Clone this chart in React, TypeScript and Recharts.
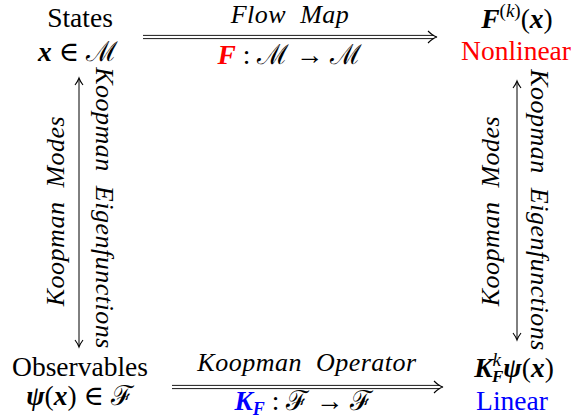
import React from 'react';
import { ScatterChart, Scatter, XAxis, YAxis, ReferenceLine } from 'recharts';

const W = 573;
const H = 419;

// diagram labels and where they sit (diagram units, y grows downward)
const nodeIds = [
  'states', 'stateVar', 'flowMap', 'flowEq', 'iterate', 'nonlinear',
  'modesL', 'eigenL', 'modesR', 'eigenR',
  'observables', 'obsVar', 'operator', 'operatorEq', 'koopIter', 'linear',
];
const nodeX = [80, 78, 290, 290, 517, 516, 64, 96, 499, 531, 80, 80, 307, 304, 514, 512];
const nodeY = [27, 61, 23, 64, 28, 60, 211, 208, 211, 210, 376, 405, 371, 410, 377, 410];

// arrows between the four corners
const arrowIds = ['flow', 'koopman', 'left', 'right'];
const arrowX1 = [143, 172, 79, 517];
const arrowY1 = [37, 387, 78, 81];
const arrowX2 = [437, 443, 79, 517];
const arrowY2 = [37, 387, 347, 340];

const nodes = nodeIds.map((id, i) => ({ id, x: nodeX[i], y: nodeY[i] }));

const FONT = '"Liberation Serif", "DejaVu Serif", serif';
const RED = '#ff0000';
const BLUE = '#0000ff';
const BASE = 27.5;
const ITAL = 26;

const Italic = ({ children }: { children: string }) => (
  <tspan fontStyle="italic" fontSize={ITAL} letterSpacing={0.5} wordSpacing={7}>
    {children}
  </tspan>
);

const labelContent = (id: string) => {
  switch (id) {
    case 'states':
      return 'States';
    case 'stateVar':
      return (
        <>
          <tspan fontWeight="bold" fontStyle="italic">x</tspan>
          <tspan> ∈ ℳ</tspan>
        </>
      );
    case 'flowMap':
      return <Italic>Flow Map</Italic>;
    case 'flowEq':
      return (
        <>
          <tspan fill={RED} fontWeight="bold" fontStyle="italic">F</tspan>
          <tspan> : ℳ → ℳ</tspan>
        </>
      );
    case 'iterate':
      return (
        <>
          <tspan fontWeight="bold" fontStyle="italic">F</tspan>
          <tspan dy={-11} fontSize={19}>(</tspan>
          <tspan fontSize={19} fontStyle="italic">k</tspan>
          <tspan fontSize={19}>)</tspan>
          <tspan dy={11}>(</tspan>
          <tspan fontWeight="bold" fontStyle="italic">x</tspan>
          <tspan>)</tspan>
        </>
      );
    case 'nonlinear':
      return <tspan fill={RED}>Nonlinear</tspan>;
    case 'modesL':
    case 'modesR':
      return <Italic>Koopman Modes</Italic>;
    case 'eigenL':
    case 'eigenR':
      return <Italic>Koopman Eigenfunctions</Italic>;
    case 'observables':
      return 'Observables';
    case 'obsVar':
      return (
        <>
          <tspan fontWeight="bold" fontStyle="italic">ψ</tspan>
          <tspan>(</tspan>
          <tspan fontWeight="bold" fontStyle="italic">x</tspan>
          <tspan>) ∈ ℱ</tspan>
        </>
      );
    case 'operator':
      return <Italic>Koopman Operator</Italic>;
    case 'operatorEq':
      return (
        <>
          <tspan fill={BLUE} fontWeight="bold" fontStyle="italic">K</tspan>
          <tspan fill={BLUE} fontWeight="bold" fontStyle="italic" fontSize={18} dy={5}>F</tspan>
          <tspan dy={-5}> : ℱ → ℱ</tspan>
        </>
      );
    case 'koopIter':
      return (
        <>
          <tspan fontWeight="bold" fontStyle="italic">K</tspan>
          <tspan fontStyle="italic" fontSize={19} dy={-11}>k</tspan>
          <tspan fontWeight="bold" fontStyle="italic" fontSize={17} dx={-9} dy={16}>F</tspan>
          <tspan fontWeight="bold" fontStyle="italic" dy={-5}>ψ</tspan>
          <tspan>(</tspan>
          <tspan fontWeight="bold" fontStyle="italic">x</tspan>
          <tspan>)</tspan>
        </>
      );
    case 'linear':
      return <tspan fill={BLUE}>Linear</tspan>;
    default:
      return null;
  }
};

const rotation: Record<string, number> = { modesL: -90, modesR: -90, eigenL: 90, eigenR: 90 };

const Label = (props: any) => {
  const { cx, cy, payload } = props;
  const rot = rotation[payload.id];
  return (
    <text
      x={cx}
      y={cy}
      textAnchor="middle"
      fontSize={BASE}
      fill="#000"
      style={{ fontFamily: FONT }}
      transform={rot ? `rotate(${rot} ${cx} ${cy})` : undefined}
    >
      {labelContent(payload.id)}
    </text>
  );
};

// double-line arrow (implies-style) pointing right
const DoubleArrow = (p: any) => {
  const { x1, y1, x2, y2 } = p;
  const g = 1.6;
  return (
    <g>
      <line x1={x1} y1={y1 - g} x2={x2 - 3} y2={y2 - g} stroke="#000" strokeWidth={0.9} />
      <line x1={x1} y1={y1 + g} x2={x2 - 3} y2={y2 + g} stroke="#000" strokeWidth={0.9} />
      <path
        d={`M${x2 - 9},${y2 - 6} Q${x2 - 4},${y2 - 1} ${x2},${y2} Q${x2 - 4},${y2 + 1} ${x2 - 9},${y2 + 6}`}
        fill="none"
        stroke="#000"
        strokeWidth={1.1}
      />
    </g>
  );
};

// thin vertical arrow with heads on both ends
const BothArrow = (p: any) => {
  const { x1, y1, x2, y2 } = p;
  const top = Math.min(y1, y2);
  const bot = Math.max(y1, y2);
  return (
    <g>
      <line x1={x1} y1={top + 1} x2={x2} y2={bot - 1} stroke="#000" strokeWidth={1} />
      <path
        d={`M${x1 - 4},${top + 7} Q${x1 - 1},${top + 3} ${x1},${top} Q${x1 + 1},${top + 3} ${x1 + 4},${top + 7}`}
        fill="none"
        stroke="#000"
        strokeWidth={1.1}
      />
      <path
        d={`M${x2 - 4},${bot - 7} Q${x2 - 1},${bot - 3} ${x2},${bot} Q${x2 + 1},${bot - 3} ${x2 + 4},${bot - 7}`}
        fill="none"
        stroke="#000"
        strokeWidth={1.1}
      />
    </g>
  );
};

export default function App() {
  return (
    <div style={{ position: 'absolute', left: 0, top: 0, background: '#fff' }}>
      <ScatterChart width={W} height={H} margin={{ top: 0, right: 0, bottom: 0, left: 0 }}>
        <XAxis type="number" dataKey="x" domain={[0, W]} hide />
        <YAxis type="number" dataKey="y" domain={[0, H]} reversed hide />
        {arrowIds.map((id, i) => (
          <ReferenceLine
            key={id}
            segment={[
              { x: arrowX1[i], y: arrowY1[i] },
              { x: arrowX2[i], y: arrowY2[i] },
            ]}
            ifOverflow="visible"
            shape={arrowY1[i] === arrowY2[i] ? DoubleArrow : BothArrow}
          />
        ))}
        <Scatter data={nodes} shape={Label} isAnimationActive={false} />
      </ScatterChart>
    </div>
  );
}
